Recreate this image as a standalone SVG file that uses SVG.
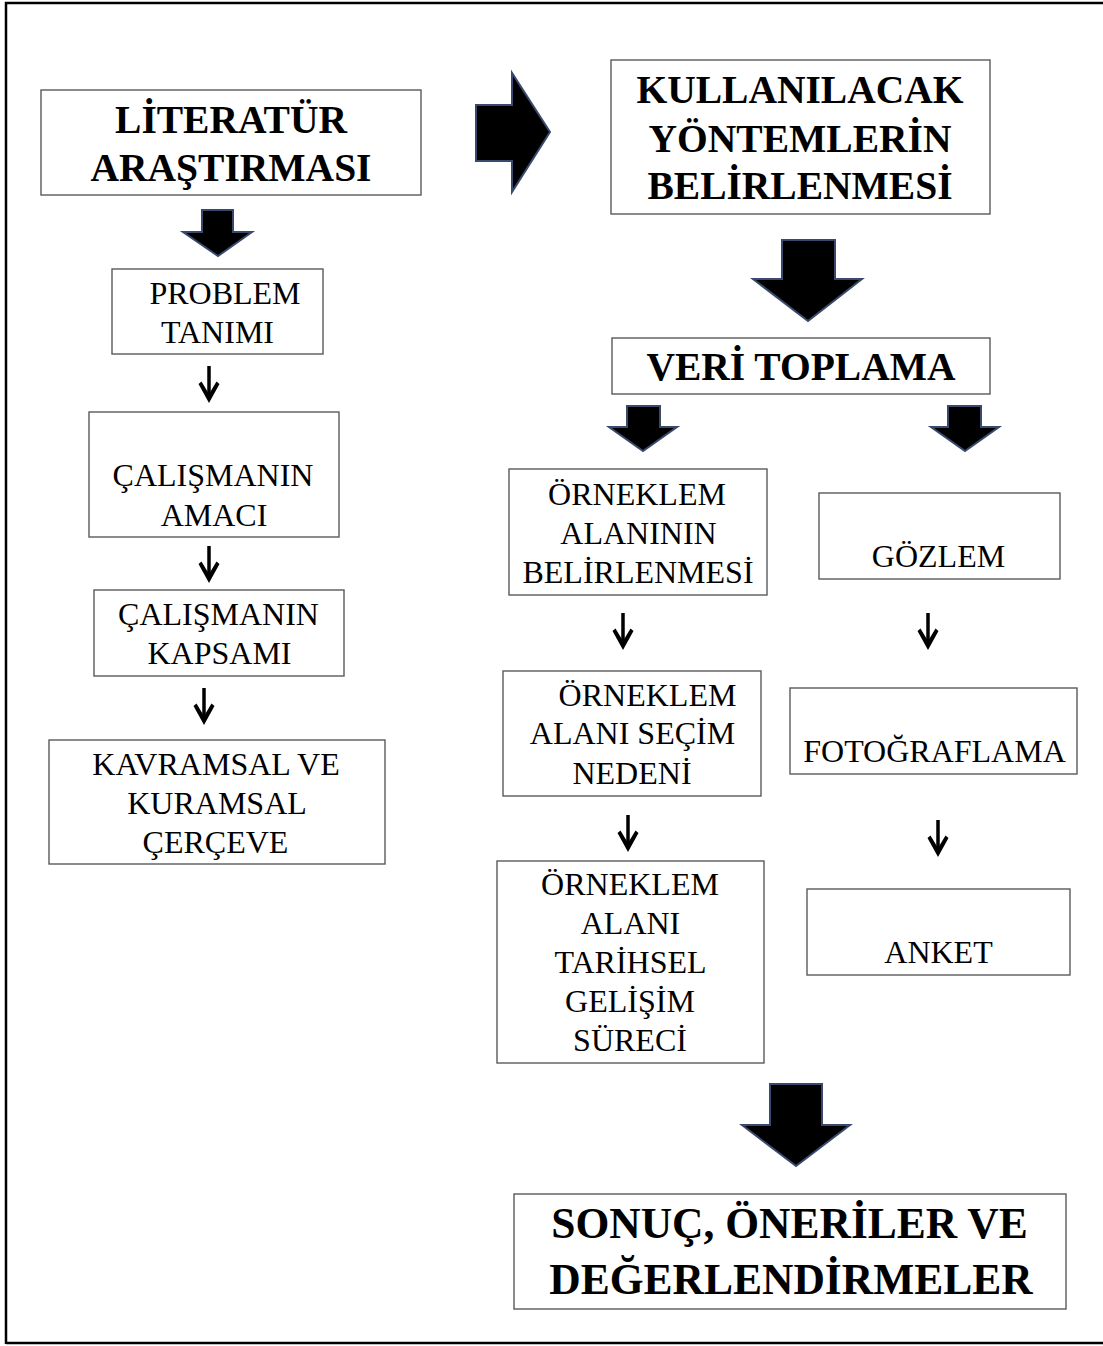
<svg xmlns="http://www.w3.org/2000/svg" width="1103" height="1346" viewBox="0 0 1103 1346">
<style>
.box{fill:#fff;stroke:#5a5a5a;stroke-width:1.4}
.t{font-family:"Liberation Serif","Times New Roman",serif;font-size:32px;fill:#000;text-anchor:middle}
.b{font-family:"Liberation Serif","Times New Roman",serif;font-size:39.5px;font-weight:bold;fill:#000;text-anchor:middle}
.bb{font-family:"Liberation Serif","Times New Roman",serif;font-size:43.5px;font-weight:bold;fill:#000;text-anchor:middle}
.blk{fill:#000;stroke:#3a4a6e;stroke-width:2;stroke-linejoin:miter}
.thin{fill:none;stroke:#000;stroke-width:3.5}
.head{fill:#000;stroke:none}
.frame{fill:none;stroke:#000;stroke-width:2.5}
</style>
<defs>
<g id="sa">
<line class="thin" x1="0" y1="0" x2="0" y2="30"/>
<polygon class="head" points="-10.5,18 -7.5,15.5 0,28 7.5,15.5 10.5,18 0,37"/>
</g>
</defs>
<rect width="1103" height="1346" fill="#fff"/>
<path class="frame" d="M6,1344 V3 H1103 M6,1343 H1103"/>

<g id="connectors">
<polygon class="blk" points="476,105 512,105 512,73 550,132 512,192 512,161 476,161"/>
<polygon class="blk" points="202,210 233,210 233,232 252,232 218,256 183,232 202,232"/>
<polygon class="blk" points="782,240 835,240 835,279 862,279 808,321 753,279 782,279"/>
<polygon class="blk" points="627,406 660,406 660,427 677,427 643,451 609,427 627,427"/>
<polygon class="blk" points="948,406 981,406 981,427 999,427 965,451 931,427 948,427"/>
<polygon class="blk" points="770,1084 822,1084 822,1125 850,1125 796,1166 742,1125 770,1125"/>
<use href="#sa" x="209" y="366"/>
<use href="#sa" x="209" y="546"/>
<use href="#sa" x="204" y="688"/>
<use href="#sa" x="623" y="613"/>
<use href="#sa" x="628" y="815"/>
<use href="#sa" x="928" y="613"/>
<use href="#sa" x="938" y="820"/>
</g>

<g id="literatur">
<rect class="box" x="41" y="90" width="380" height="105"/>
<text class="b" x="231" y="133">LİTERATÜR</text>
<text class="b" x="231" y="181">ARAŞTIRMASI</text>
</g>
<g id="yontemler">
<rect class="box" x="611" y="60" width="379" height="154"/>
<text class="b" x="800" y="103">KULLANILACAK</text>
<text class="b" x="800" y="152">YÖNTEMLERİN</text>
<text class="b" x="800" y="199">BELİRLENMESİ</text>
</g>
<g id="problem">
<rect class="box" x="112" y="269" width="211" height="85"/>
<text class="t" x="225" y="304">PROBLEM</text>
<text class="t" x="217.5" y="343">TANIMI</text>
</g>
<g id="amaci">
<rect class="box" x="89" y="412" width="250" height="125"/>
<text class="t" x="213" y="486">ÇALIŞMANIN</text>
<text class="t" x="214" y="526">AMACI</text>
</g>
<g id="kapsami">
<rect class="box" x="94" y="590" width="250" height="86"/>
<text class="t" x="218.5" y="625">ÇALIŞMANIN</text>
<text class="t" x="219.5" y="664">KAPSAMI</text>
</g>
<g id="kavramsal">
<rect class="box" x="49" y="740" width="336" height="124"/>
<text class="t" x="216" y="775">KAVRAMSAL VE</text>
<text class="t" x="217" y="814">KURAMSAL</text>
<text class="t" x="215.5" y="853">ÇERÇEVE</text>
</g>
<g id="veri">
<rect class="box" x="612" y="338" width="378" height="56"/>
<text class="b" x="801" y="380">VERİ TOPLAMA</text>
</g>
<g id="orneklem1">
<rect class="box" x="509" y="469" width="258" height="126"/>
<text class="t" x="637" y="505">ÖRNEKLEM</text>
<text class="t" x="638.5" y="544">ALANININ</text>
<text class="t" x="638" y="583">BELİRLENMESİ</text>
</g>
<g id="gozlem">
<rect class="box" x="819" y="493" width="241" height="86"/>
<text class="t" x="938.5" y="567">GÖZLEM</text>
</g>
<g id="orneklem2">
<rect class="box" x="503" y="671" width="258" height="125"/>
<text class="t" x="647.5" y="706">ÖRNEKLEM</text>
<text class="t" x="632.5" y="744">ALANI SEÇİM</text>
<text class="t" x="632" y="784">NEDENİ</text>
</g>
<g id="fotograflama">
<rect class="box" x="790" y="688" width="287" height="86"/>
<text class="t" x="934.5" y="762">FOTOĞRAFLAMA</text>
</g>
<g id="orneklem3">
<rect class="box" x="497" y="861" width="267" height="202"/>
<text class="t" x="630" y="895">ÖRNEKLEM</text>
<text class="t" x="630.5" y="934">ALANI</text>
<text class="t" x="630.5" y="973">TARİHSEL</text>
<text class="t" x="630" y="1012">GELİŞİM</text>
<text class="t" x="630" y="1051">SÜRECİ</text>
</g>
<g id="anket">
<rect class="box" x="807" y="889" width="263" height="86"/>
<text class="t" x="938.5" y="963">ANKET</text>
</g>
<g id="sonuc">
<rect class="box" x="514" y="1194" width="552" height="115"/>
<text class="bb" x="789.5" y="1238">SONUÇ, ÖNERİLER VE</text>
<text class="bb" x="791" y="1294">DEĞERLENDİRMELER</text>
</g>
</svg>
